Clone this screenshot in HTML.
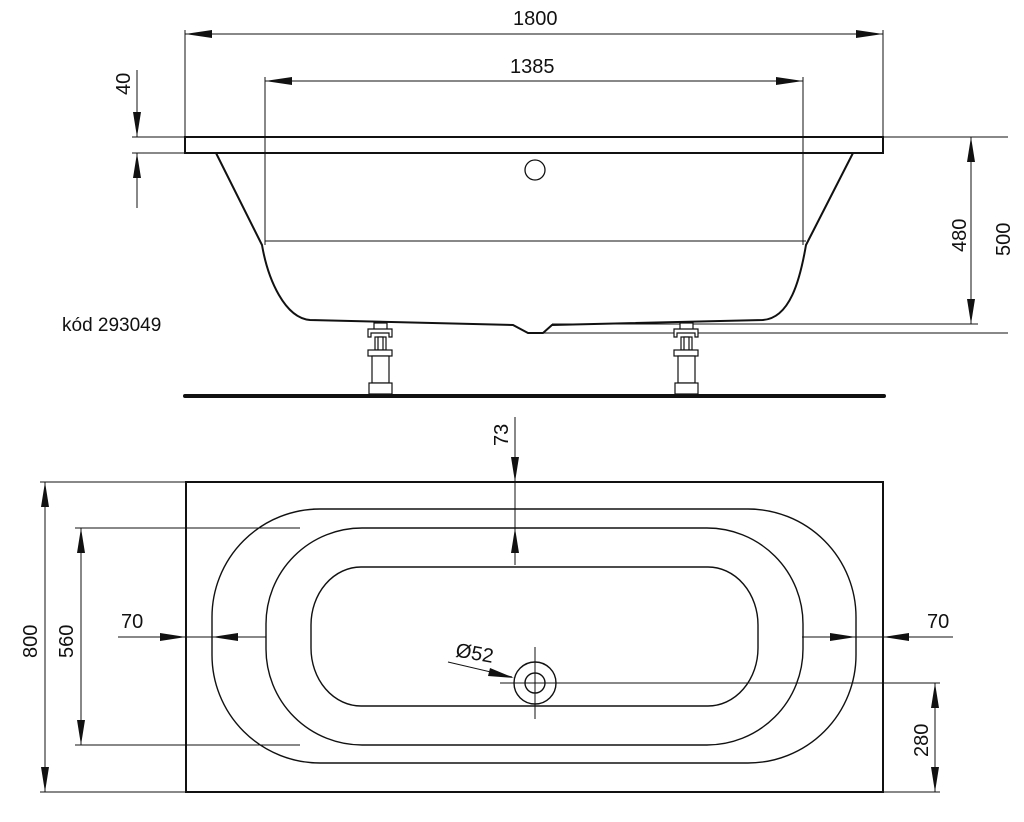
<!DOCTYPE html>
<html><head><style>
html,body{margin:0;padding:0;background:#fff;}
svg{display:block;}
text{font-family:"Liberation Sans",Arial,sans-serif;fill:#111;}
</style></head><body>
<svg width="1024" height="822" viewBox="0 0 1024 822" xmlns="http://www.w3.org/2000/svg">
<defs>
<g id="leg" fill="#fff" stroke="#111" stroke-width="1.2">
<rect x="-6" y="323" width="13" height="7"/>
<path d="M-12 337 V329 H12 V337 H9 V333 H-9 V337 Z"/>
<rect x="-5" y="337" width="11" height="13"/>
<rect x="-2" y="337" width="5" height="13"/>
<rect x="-12" y="350" width="24" height="6"/>
<rect x="-8" y="356" width="17" height="27"/>
<rect x="-11" y="383" width="23" height="11"/>
</g>
</defs>
<g stroke="#111" fill="none" stroke-width="1">
<!-- 1800 -->
<line x1="185" y1="30" x2="185" y2="137"/>
<line x1="883" y1="30" x2="883" y2="137"/>
<line x1="185" y1="34" x2="883" y2="34"/>
<!-- 1385 -->
<line x1="265" y1="77" x2="265" y2="245"/>
<line x1="803" y1="77" x2="803" y2="245"/>
<line x1="265" y1="81" x2="803" y2="81"/>
<line x1="265" y1="241" x2="806" y2="241"/>
<!-- 40 -->
<line x1="132" y1="137" x2="185" y2="137"/>
<line x1="132" y1="153" x2="185" y2="153"/>
<line x1="137" y1="70" x2="137" y2="137"/>
<line x1="137" y1="153" x2="137" y2="208"/>
<!-- right dims -->
<line x1="883" y1="137" x2="1008" y2="137"/>
<line x1="552" y1="324" x2="978" y2="324"/>
<line x1="543" y1="333" x2="1008" y2="333"/>
<line x1="971" y1="137" x2="971" y2="324"/>
</g>
<g fill="#111">
<polygon points="185,34 212,30 212,38"/>
<polygon points="883,34 856,30 856,38"/>
<polygon points="265,81 292,77 292,85"/>
<polygon points="803,81 776,77 776,85"/>
<polygon points="137,137 133,112 141,112"/>
<polygon points="137,153 133,178 141,178"/>
<polygon points="971,137 967,162 975,162"/>
<polygon points="971,324 967,299 975,299"/>
</g>
<!-- rim and body -->
<rect x="185" y="137" width="698" height="16" fill="none" stroke="#111" stroke-width="2"/>
<path d="M216 153 L262 245 C268 280 285 318 310 320 L513 325 L528 333 L543 333 L552 325 L763 320 C790 318 800 280 806 245 L853 153" fill="none" stroke="#111" stroke-width="2"/>
<circle cx="535" cy="170" r="10" fill="none" stroke="#111" stroke-width="1.3"/>
<use href="#leg" x="380"/>
<use href="#leg" x="686"/>
<line x1="185" y1="396" x2="884" y2="396" stroke="#111" stroke-width="4" stroke-linecap="round"/>
<text x="62" y="331" font-size="19">kód 293049</text>
<text x="513" y="25" font-size="20">1800</text>
<text x="510" y="73" font-size="20">1385</text>
<text font-size="20" transform="translate(130,95) rotate(-90)">40</text>
<text font-size="20" transform="translate(966,252) rotate(-90)">480</text>
<text font-size="20" transform="translate(1010,256) rotate(-90)">500</text>

<!-- top view -->
<rect x="186" y="482" width="697" height="310" fill="none" stroke="#111" stroke-width="2"/>
<g fill="none" stroke="#111" stroke-width="1.4">
<rect x="212" y="509" width="644" height="254" rx="108" ry="108"/>
<rect x="266" y="528" width="537" height="217" rx="96" ry="96"/>
<rect x="311" y="567" width="447" height="139" rx="50" ry="58"/>
<circle cx="535" cy="683" r="21"/>
<circle cx="535" cy="683" r="10"/>
</g>
<g stroke="#111" stroke-width="1" fill="none">
<line x1="535" y1="647" x2="535" y2="719"/>
<line x1="500" y1="683" x2="940" y2="683"/>
<!-- 800 -->
<line x1="40" y1="482" x2="186" y2="482"/>
<line x1="40" y1="792" x2="186" y2="792"/>
<line x1="45" y1="482" x2="45" y2="792"/>
<!-- 560 -->
<line x1="75" y1="528" x2="300" y2="528"/>
<line x1="75" y1="745" x2="300" y2="745"/>
<line x1="81" y1="528" x2="81" y2="745"/>
<!-- 73 -->
<line x1="515" y1="417" x2="515" y2="565"/>
<!-- 70 -->
<line x1="118" y1="637" x2="266" y2="637"/>
<line x1="802" y1="637" x2="953" y2="637"/>
<!-- 280 -->
<line x1="883" y1="792" x2="940" y2="792"/>
<line x1="935" y1="683" x2="935" y2="792"/>
<!-- leader -->
<line x1="448" y1="662" x2="512" y2="677"/>
</g>
<g fill="#111">
<polygon points="45,482 41,507 49,507"/>
<polygon points="45,792 41,767 49,767"/>
<polygon points="81,528 77,553 85,553"/>
<polygon points="81,745 77,720 85,720"/>
<polygon points="515,482 511,457 519,457"/>
<polygon points="515,528 511,553 519,553"/>
<polygon points="186,637 160,633 160,641"/>
<polygon points="212,637 238,633 238,641"/>
<polygon points="856,637 830,633 830,641"/>
<polygon points="883,637 909,633 909,641"/>
<polygon points="935,683 931,708 939,708"/>
<polygon points="935,792 931,767 939,767"/>
<polygon points="514,678 490,668 488,676"/>
</g>
<text x="121" y="628" font-size="20">70</text>
<text x="927" y="628" font-size="20">70</text>
<text x="456" y="660" font-size="20" transform="rotate(10 476 652)">Ø52</text>
<text font-size="20" transform="translate(508,446) rotate(-90)">73</text>
<text font-size="20" transform="translate(37,658) rotate(-90)">800</text>
<text font-size="20" transform="translate(73,658) rotate(-90)">560</text>
<text font-size="20" transform="translate(928,757) rotate(-90)">280</text>
</svg>
</body></html>
